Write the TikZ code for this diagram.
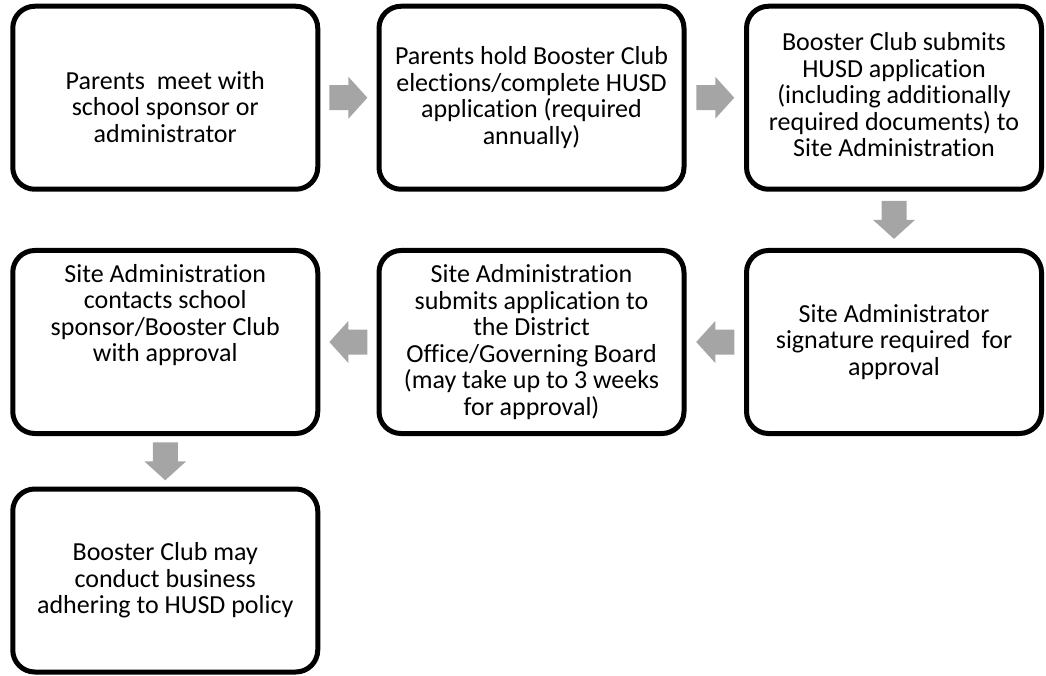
\documentclass[tikz,border=0pt]{standalone}
\usepackage{fontspec}
\setmainfont{Carlito}[Ligatures=NoCommon]
\usetikzlibrary{calc}
\definecolor{arrowgray}{HTML}{A5A5A5}
\tikzset{
  box/.style={draw=black, line width=5pt, rounded corners=22pt, minimum width=305pt, minimum height=183pt, inner sep=0pt},
  txt/.style={align=center, inner sep=0pt, font=\fontsize{26}{26.5}\selectfont},
  blockarr/.style={fill=arrowgray, draw=none}
}
\newcommand{\blockarrow}[2]{\fill[blockarr, shift={(#1)}, rotate=#2] (-19,-12.5) -- (0,-12.5) -- (0,-21) -- (19,0) -- (0,21) -- (0,12.5) -- (-19,12.5) -- cycle;}
\begin{document}
\begin{tikzpicture}[x=1pt, y=1pt]
\useasboundingbox (0,0) rectangle (1046,-676);
% boxes
\node[box] (b1) at (165.25,-97.75) {};
\node[box] (b2) at (531.5,-97.75) {};
\node[box, minimum width=295pt] (b3) at (894,-97.75) {};
\node[box, minimum width=295pt] (b4) at (894,-342) {};
\node[box] (b5) at (531.5,-342) {};
\node[box] (b6) at (165.25,-342) {};
\node[box] (b7) at (165.25,-580.5) {};
% texts
\node[txt] (t1) at ([yshift=-9pt]b1.center) {Parents\ \ meet with\\school sponsor or\\administrator};
\node[txt] (t2) at (b2.center) {Parents hold Booster Club\\elections/complete HUSD\\application (required\\annually)};
\node[txt] (t3) at ([yshift=3pt]b3.center) {Booster Club submits\\HUSD application\\(including additionally\\required documents) to\\Site Administration};
\node[txt] (t4) at (b4.center) {Site Administrator\\signature required\ \ for\\approval};
\node[txt] (t5) at (b5.center) {Site Administration\\submits application to\\the District\\Office/Governing Board\\(may take up to 3 weeks\\for approval)};
\node[txt] (t6) at ([yshift=27pt]b6.center) {Site Administration\\contacts school\\sponsor/Booster Club\\with approval};
\node[txt] (t7) at (b7.center) {Booster Club may\\conduct business\\adhering to HUSD policy};
% arrows
\coordinate (m12) at ($(b1.east)!0.5!(b2.west)$);
\coordinate (m23) at ($(b2.east)!0.5!(b3.west)$);
\coordinate (m34) at ($(b3.south)!0.5!(b4.north)$);
\coordinate (m45) at ($(b4.west)!0.5!(b5.east)$);
\coordinate (m56) at ($(b5.west)!0.5!(b6.east)$);
\coordinate (m67) at ($(b6.south)!0.5!(b7.north)$);
\blockarrow{m12}{0}
\blockarrow{m23}{0}
\blockarrow{m34}{-90}
\blockarrow{m45}{180}
\blockarrow{m56}{180}
\blockarrow{m67}{-90}
\end{tikzpicture}
\end{document}
